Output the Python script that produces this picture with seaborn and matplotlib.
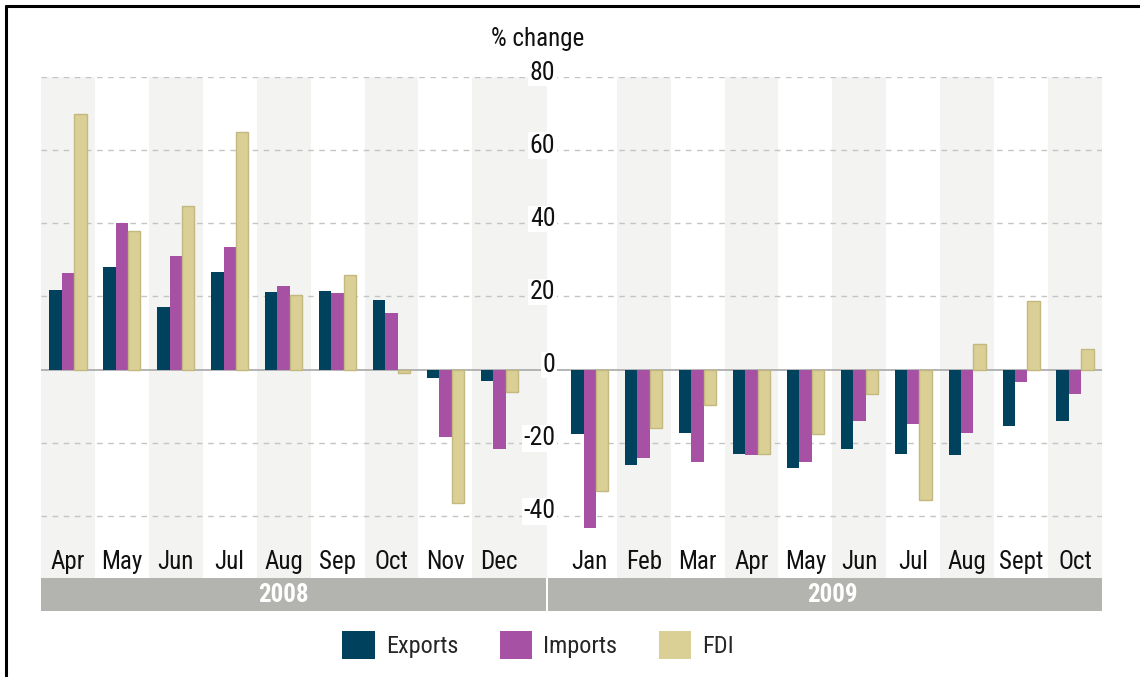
import numpy as np
import pandas as pd
import matplotlib
matplotlib.use("Agg")
import matplotlib.pyplot as plt
from matplotlib.lines import Line2D
from matplotlib import font_manager as fm
import seaborn as sns

# ---- data ----
months_2008 = ["Apr", "May", "Jun", "Jul", "Aug", "Sep", "Oct", "Nov", "Dec"]
months_2009 = ["Jan", "Feb", "Mar", "Apr", "May", "Jun", "Jul", "Aug", "Sept", "Oct"]
exports = [21.8, 28.1, 17.2, 26.8, 21.1, 21.5, 19.0, -2.4, -3.2,
           -17.7, -26.0, -17.4, -23.0, -26.8, -21.7, -23.0, -23.5, -15.4, -14.0]
imports = [26.5, 40.1, 31.1, 33.4, 22.9, 20.8, 15.5, -18.4, -21.7,
           -43.2, -24.2, -25.3, -23.3, -25.3, -14.0, -14.9, -17.4, -3.5, -6.6]
fdi = [69.8, 37.8, 44.7, 65.0, 20.5, 25.9, -1.0, -36.6, -6.2,
       -33.1, -16.1, -9.7, -23.0, -17.6, -6.7, -35.8, 7.0, 18.8, 5.6]
series_names = ["Exports", "Imports", "FDI"]
years = ["2008", "2009"]
y_ticks = [80, 60, 40, 20, 0, -20, -40]

# ---- style ----
sns.set_theme(style="white")

ttf = fm.fontManager.ttflist
names = {f.name for f in ttf}
stretch = "normal"
base = 16
if "Liberation Sans Narrow" in names:
    fam = "Liberation Sans Narrow"
elif "Roboto Condensed" in names:
    fam = "Roboto Condensed"
elif "Open Sans Condensed" in names:
    fam = "Open Sans Condensed"
elif any(f.name == "DejaVu Sans" and f.stretch in ("condensed", "semi-condensed") for f in ttf):
    fam = "DejaVu Sans"
    stretch = "condensed"
    base = 15
else:
    fam = "Roboto"
    base = 14
plt.rcParams["font.family"] = [fam, "DejaVu Sans"]
plt.rcParams["font.stretch"] = stretch

colors = {"Exports": "#00425E", "Imports": "#A651A3", "FDI": "#DAD096"}
fdi_edge = "#C2B880"
band_color = "#F3F3F1"
year_color = "#B3B4AF"
grid_color = "#C4C4C4"

W, H = 1140, 677
fig = plt.figure(figsize=(W / 100, H / 100), dpi=100)

left_px, right_px, top_px, bottom_px = 41, 1102, 77, 578
ax = fig.add_axes([left_px / W, 1 - bottom_px / H,
                   (right_px - left_px) / W, (bottom_px - top_px) / H])

gap = 0.676
pos_2008 = list(np.arange(len(months_2008), dtype=float))
pos_2009 = list(np.arange(len(months_2009), dtype=float) + len(months_2008) + gap)
positions = pos_2008 + pos_2009
all_months = months_2008 + months_2009

df = pd.DataFrame({
    "pos": positions * 3,
    "value": exports + imports + fdi,
    "series": ["Exports"] * len(positions) + ["Imports"] * len(positions) + ["FDI"] * len(positions),
})

xmin = -0.5
xmax = pos_2009[-1] + 0.5
split_x = 8.5 + 0.39

for i, p in enumerate(positions):
    local = i if i < len(pos_2008) else i - len(pos_2008)
    shade = (local % 2 == 0) if i < len(pos_2008) else (local % 2 == 1)
    if shade:
        r = p + 0.5
        if i == len(pos_2008) - 1:
            r = split_x
        ax.axvspan(p - 0.5, r, color=band_color, lw=0, zorder=0)

sns.barplot(data=df, x="pos", y="value", hue="series", hue_order=series_names,
            palette=colors, native_scale=True, width=0.69, errorbar=None,
            saturation=1, linewidth=0, ax=ax, zorder=3)

for bar in ax.containers[2]:
    bar.set_edgecolor(fdi_edge)
    bar.set_linewidth(1.0)

handles, labels = ax.get_legend_handles_labels()
if ax.get_legend() is not None:
    ax.get_legend().remove()

ax.set_xlim(xmin, xmax)
ax.set_ylim(-57, 80)

for t in y_ticks:
    if t == 0:
        ax.axhline(0, color="#A8A8A8", lw=1.2, zorder=2)
    else:
        ax.axhline(t, color=grid_color, lw=1.0, ls=(0, (4, 4)), zorder=1)

lab_x = xmin + (555 - left_px) / 53.9
for t in y_ticks:
    ax.text(lab_x, t + 1.2, f"{t}", ha="right", va="center", fontsize=base + 2.5,
            color="#111111", zorder=5,
            bbox=dict(facecolor="white", edgecolor="none", pad=1.0))

ax.set_xticks(positions)
ax.set_xticklabels(all_months, fontsize=base + 2, color="#111111")
ax.tick_params(axis="x", length=0, pad=-20)
ax.set_yticks([])
ax.set_xlabel("")
ax.set_ylabel("")
for s in ax.spines.values():
    s.set_visible(False)
ax.set_facecolor("none")

yr_top, yr_bot = 578, 611
yax = fig.add_axes([left_px / W, 1 - yr_bot / H,
                    (right_px - left_px) / W, (yr_bot - yr_top) / H])
yax.set_xlim(xmin, xmax)
yax.set_ylim(0, 1)
yax.axvspan(xmin, split_x - 0.02, color=year_color, lw=0)
yax.axvspan(split_x + 0.02, xmax, color=year_color, lw=0)
yax.text((pos_2008[0] + pos_2008[-1]) / 2, 0.5, years[0], ha="center", va="center",
         color="white", fontsize=base + 2, fontweight="bold")
yax.text((pos_2009[0] + pos_2009[-1]) / 2, 0.5, years[1], ha="center", va="center",
         color="white", fontsize=base + 2, fontweight="bold")
yax.axis("off")

fig.text(538 / W, 1 - 39 / H, "% change", ha="center", va="center",
         fontsize=base + 2, color="#111111")

fig.legend(handles, labels, loc="center", bbox_to_anchor=(538 / W, 1 - 645 / H),
           ncol=3, frameon=False, fontsize=base + 1.5, handlelength=1.35, handleheight=1.35,
           handletextpad=0.45, columnspacing=1.7)

fig.add_artist(Line2D([6 / W, 1], [1 - 6 / H, 1 - 6 / H], color="black", lw=2.2,
                      transform=fig.transFigure))
fig.add_artist(Line2D([6 / W, 6 / W], [0, 1 - 6 / H], color="black", lw=2.2,
                      transform=fig.transFigure))

fig.savefig("out.png", dpi=100)
